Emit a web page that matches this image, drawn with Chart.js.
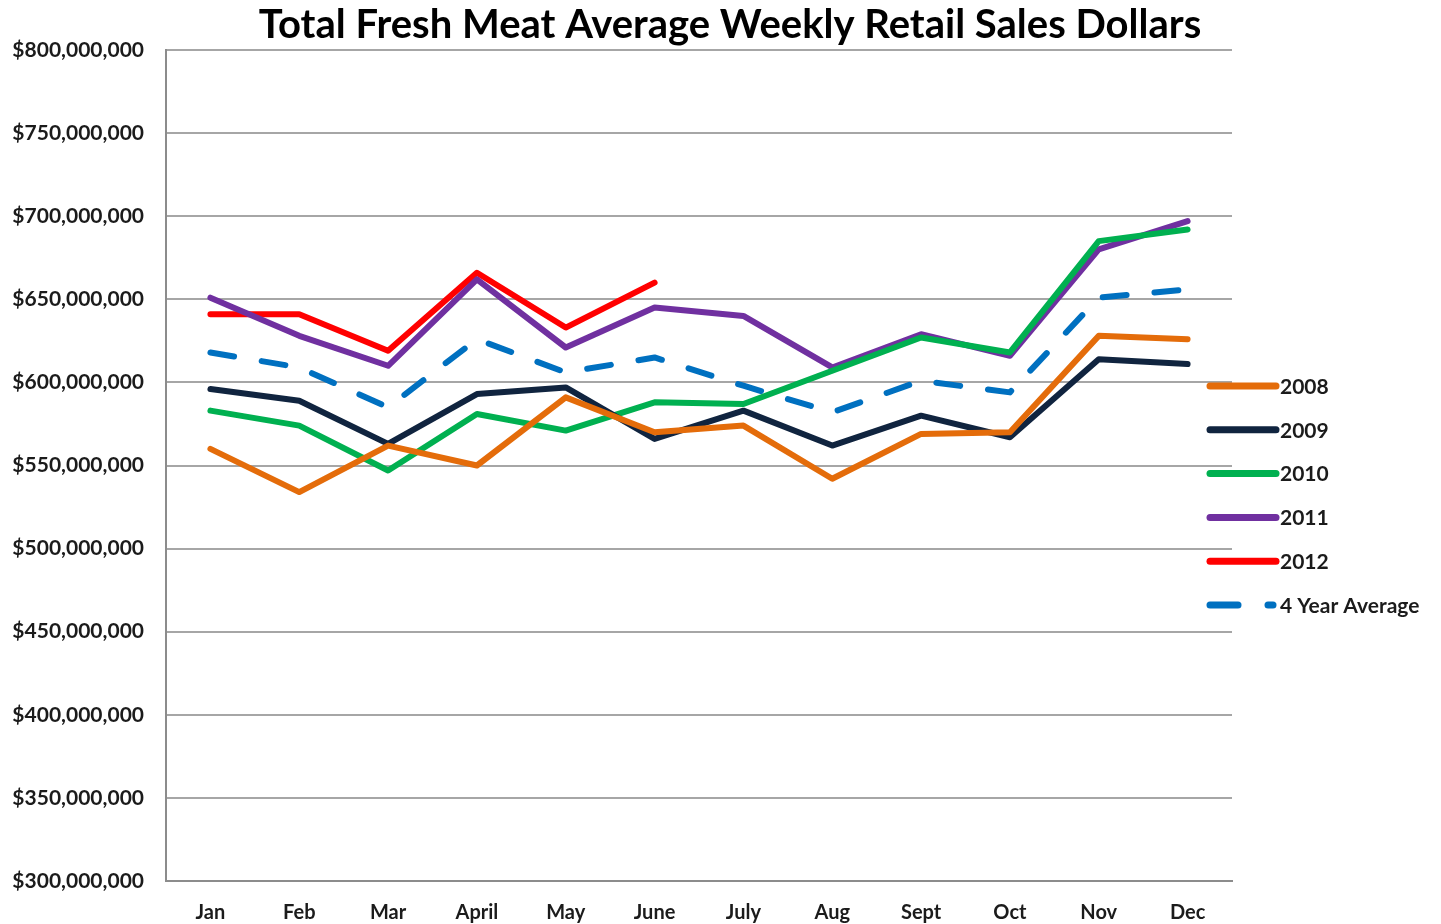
<!DOCTYPE html>
<html>
<head>
<meta charset="utf-8">
<script src="https://cdn.jsdelivr.net/npm/chart.js@4"></script>
<style>
  html, body { margin: 0; padding: 0; background: #fff; }
  #wrap { width: 1441px; height: 924px; }
</style>
</head>
<body>
<div id="wrap"><canvas id="meatChart" width="1441" height="924"></canvas></div>
<script>
// Months on the x axis
const months = ['Jan', 'Feb', 'Mar', 'April', 'May', 'June', 'July', 'Aug', 'Sept', 'Oct', 'Nov', 'Dec'];

// Average weekly retail sales, millions of dollars
const sales2008 = [560, 534, 562, 550, 591, 570, 574, 542, 569, 570, 628, 626];
const sales2009 = [596, 589, 563, 593, 597, 566, 583, 562, 580, 567, 614, 611];
const sales2010 = [583, 574, 547, 581, 571, 588, 587, 607, 627, 618, 685, 692];
const sales2011 = [651, 628, 610, 662, 621, 645, 640, 609, 629, 616, 680, 697];
const sales2012 = [641, 641, 619, 666, 633, 660, null, null, null, null, null, null];
const fourYearAvg = [618, 609, 585, 626, 606, 615, 598, 582, 601, 594, 651, 656];

// Y axis range / ticks (millions)
const yMin = 300;
const yMax = 800;
const yStep = 50;

const M = 1000000;
const toDollars = arr => arr.map(v => v === null ? null : v * M);

const FONT = 'Lato, "Open Sans", sans-serif';
const TEXT = '#1b1b1b';
const TITLE = 'Total Fresh Meat Average Weekly Retail Sales Dollars';

function lineSet(label, data, color, extra) {
    return Object.assign({
        label: label,
        data: toDollars(data),
        borderColor: color,
        backgroundColor: color,
        borderWidth: 6,
        pointRadius: 0,
        pointHoverRadius: 0,
        tension: 0,
        borderJoinStyle: 'round',
        borderCapStyle: 'round',
        spanGaps: false
    }, extra || {});
}

// Title + legend drawn by hand, Excel style
const sideLegend = {
    id: 'sideLegend',
    afterDraw(chart) {
        const c = chart.ctx;
        c.save();
        // title, centred over the whole picture rather than the plot
        c.fillStyle = '#000';
        c.font = 'bold 40px ' + FONT;
        c.textAlign = 'center';
        c.textBaseline = 'middle';
        c.fillText(TITLE, 730, 25);

        const x0 = 1208, x1 = 1276;
        const top = 386, gap = 43.8;
        chart.data.datasets.forEach((ds, i) => {
            const y = top + i * gap;
            c.strokeStyle = ds.borderColor;
            c.lineWidth = 7;
            c.lineCap = 'round';
            if (ds.borderDash) {
                c.beginPath(); c.moveTo(x0 + 2, y); c.lineTo(1238, y); c.stroke();
                c.beginPath(); c.moveTo(1268, y); c.lineTo(1273, y); c.stroke();
            } else {
                c.beginPath(); c.moveTo(x0 + 2, y); c.lineTo(x1, y); c.stroke();
            }
            c.fillStyle = TEXT;
            c.font = 'bold 21px ' + FONT;
            c.textAlign = 'left';
            c.textBaseline = 'middle';
            c.fillText(ds.label, 1280, y + 1);
        });
        c.restore();
    }
};

new Chart(document.getElementById('meatChart').getContext('2d'), {
    type: 'line',
    data: {
        labels: months,
        datasets: [
            lineSet('2008', sales2008, '#E46C0A'),
            lineSet('2009', sales2009, '#10243F'),
            lineSet('2010', sales2010, '#00B050'),
            lineSet('2011', sales2011, '#7030A0'),
            lineSet('2012', sales2012, '#FF0000'),
            lineSet('4 Year Average', fourYearAvg, '#0070C0', { borderDash: [24, 28], borderCapStyle: 'round' })
        ]
    },
    options: {
        responsive: false,
        animation: false,
        layout: { padding: { left: 0, right: 209, top: 50, bottom: 0 } },
        plugins: {
            legend: { display: false },
            tooltip: { enabled: false },
            title: { display: false }
        },
        scales: {
            x: {
                offset: true,
                grid: { display: false, drawTicks: false },
                border: { display: true, color: '#8c8c8c', width: 2 },
                ticks: {
                    color: TEXT,
                    padding: 20,
                    maxRotation: 0,
                    font: { family: FONT, size: 20, weight: 'bold' }
                },
                afterFit(scale) { scale.height = 43; }
            },
            y: {
                min: yMin * M,
                max: yMax * M,
                grid: { color: '#a6a6a6', lineWidth: 2, drawTicks: false },
                border: { display: true, color: '#8c8c8c', width: 2 },
                ticks: {
                    stepSize: yStep * M,
                    color: TEXT,
                    padding: 22,
                    font: { family: FONT, size: 21, weight: 'bold' },
                    callback: v => '$' + Number(v).toLocaleString('en-US')
                },
                afterFit(scale) { scale.width = 166; }
            }
        }
    },
    plugins: [sideLegend]
});
</script>
</body>
</html>
